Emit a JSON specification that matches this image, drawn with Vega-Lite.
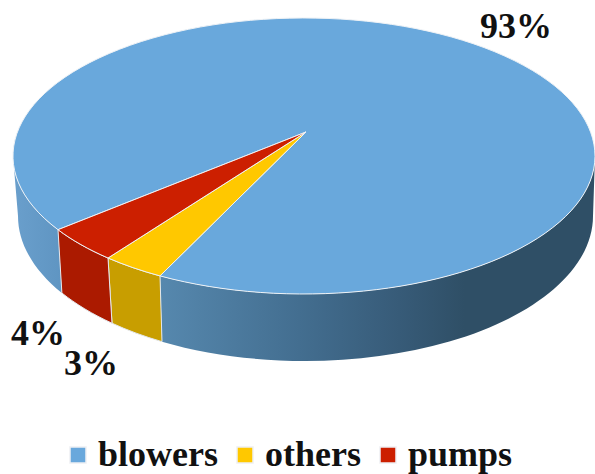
{
  "$schema": "https://vega.github.io/schema/vega-lite/v6.json",
  "width": 595,
  "height": 474,
  "padding": 0,
  "autosize": {"type": "none"},
  "background": "white",
  "config": {"view": {"stroke": null}},
  "datasets": {
    "slices": [
      {"category": "blowers", "share": 0.93, "piece": "blowers top"},
      {"category": "others", "share": 0.03, "piece": "others top"},
      {"category": "pumps", "share": 0.04, "piece": "pumps top"}
    ],
    "walls": [
      {"category": "blowers", "piece": "blowers front"},
      {"category": "blowers", "piece": "blowers left"},
      {"category": "others", "piece": "others side"},
      {"category": "pumps", "piece": "pumps side"}
    ]
  },
  "encoding": {
    "x": {"datum": 304, "type": "quantitative", "scale": {"domain": [0, 595]}, "axis": null},
    "y": {"datum": 156, "type": "quantitative", "scale": {"domain": [474, 0]}, "axis": null},
    "shape": {
      "field": "piece",
      "type": "nominal",
      "legend": null,
      "scale": {
        "domain": ["blowers front", "blowers left", "others side", "pumps side", "blowers top", "others top", "pumps top"],
        "range": [
          "M -144 119.9 A 291 138 0 0 0 291 0 L 289 60 A 287.5 145 0 0 1 -142 185.65 Z",
          "M -291 0 A 291 138 0 0 0 -246 73.7 L -242.1 137 A 287.5 145 0 0 1 -286 60 Z",
          "M -196 102 A 291 138 0 0 0 -144 119.9 L -142 185.65 A 287.5 145 0 0 1 -192 167.2 Z",
          "M -246 73.7 A 291 138 0 0 0 -196 102 L -192 167.2 A 287.5 145 0 0 1 -242.1 137 Z",
          "M 2 -24 L -144 119.9 A 291 138 0 1 0 -246 73.7 Z",
          "M 2 -24 L -196 102 A 291 138 0 0 0 -144 119.9 Z",
          "M 2 -24 L -246 73.7 A 291 138 0 0 0 -196 102 Z"
        ]
      }
    }
  },
  "layer": [
    {
      "data": {"name": "walls"},
      "transform": [{"filter": "datum.piece === 'blowers front'"}],
      "mark": {
        "type": "point", "filled": true, "size": 4, "opacity": 1, "strokeWidth": 0,
        "fill": {"gradient": "linear", "x1": 0, "y1": 0, "x2": 1, "y2": 0, "stops": [
          {"offset": 0, "color": "#5688ae"},
          {"offset": 0.32, "color": "#436e90"},
          {"offset": 0.55, "color": "#375b78"},
          {"offset": 0.7, "color": "#2f4f66"},
          {"offset": 1, "color": "#2f4f66"}
        ]}
      }
    },
    {
      "data": {"name": "walls"},
      "transform": [{"filter": "datum.piece === 'blowers left'"}],
      "mark": {
        "type": "point", "filled": true, "size": 4, "opacity": 1, "strokeWidth": 0,
        "fill": {"gradient": "linear", "x1": 0, "y1": 0, "x2": 1, "y2": 0, "stops": [
          {"offset": 0, "color": "#6a9fcc"},
          {"offset": 1, "color": "#5f95c2"}
        ]}
      }
    },
    {
      "data": {"name": "walls"},
      "transform": [{"filter": "datum.piece === 'others side'"}],
      "mark": {"type": "point", "filled": true, "size": 4, "opacity": 1, "fill": "#c89e00", "stroke": "#e4e8ec", "strokeWidth": 1}
    },
    {
      "data": {"name": "walls"},
      "transform": [{"filter": "datum.piece === 'pumps side'"}],
      "mark": {"type": "point", "filled": true, "size": 4, "opacity": 1, "fill": "#ab1a00", "stroke": "#e4e8ec", "strokeWidth": 1}
    },
    {
      "data": {"name": "slices"},
      "mark": {"type": "point", "filled": true, "size": 4, "opacity": 1, "stroke": "#eef2f6", "strokeWidth": 1},
      "encoding": {
        "color": {
          "field": "category",
          "type": "nominal",
          "scale": {"domain": ["blowers", "others", "pumps"], "range": ["#69a8dc", "#ffc800", "#cc1f00"]},
          "legend": {
            "title": null,
            "orient": "none",
            "direction": "horizontal",
            "legendX": 60,
            "legendY": 437,
            "symbolType": "square",
            "symbolSize": 256,
            "symbolStrokeColor": "#eef0f3",
            "symbolStrokeWidth": 1.5,
            "labelFont": "Liberation Serif",
            "labelFontWeight": "bold",
            "labelFontSize": 36,
            "labelColor": "#111111",
            "labelOffset": 2,
            "labelLimit": 300,
            "columnPadding": 9
          }
        }
      }
    },
    {
      "data": {"name": "slices"},
      "transform": [{"filter": "datum.category === 'blowers'"}],
      "mark": {"type": "text", "font": "Liberation Serif", "fontWeight": "bold", "fontSize": 36, "color": "#111111", "align": "center", "baseline": "middle"},
      "encoding": {
        "x": {"datum": 516, "type": "quantitative"},
        "y": {"datum": 27, "type": "quantitative"},
        "shape": null,
        "text": {"field": "share", "type": "quantitative", "format": ".0%"}
      }
    },
    {
      "data": {"name": "slices"},
      "transform": [{"filter": "datum.category === 'pumps'"}],
      "mark": {"type": "text", "font": "Liberation Serif", "fontWeight": "bold", "fontSize": 36, "color": "#111111", "align": "center", "baseline": "middle"},
      "encoding": {
        "x": {"datum": 38, "type": "quantitative"},
        "y": {"datum": 334, "type": "quantitative"},
        "shape": null,
        "text": {"field": "share", "type": "quantitative", "format": ".0%"}
      }
    },
    {
      "data": {"name": "slices"},
      "transform": [{"filter": "datum.category === 'others'"}],
      "mark": {"type": "text", "font": "Liberation Serif", "fontWeight": "bold", "fontSize": 36, "color": "#111111", "align": "center", "baseline": "middle"},
      "encoding": {
        "x": {"datum": 91, "type": "quantitative"},
        "y": {"datum": 364, "type": "quantitative"},
        "shape": null,
        "text": {"field": "share", "type": "quantitative", "format": ".0%"}
      }
    }
  ]
}
